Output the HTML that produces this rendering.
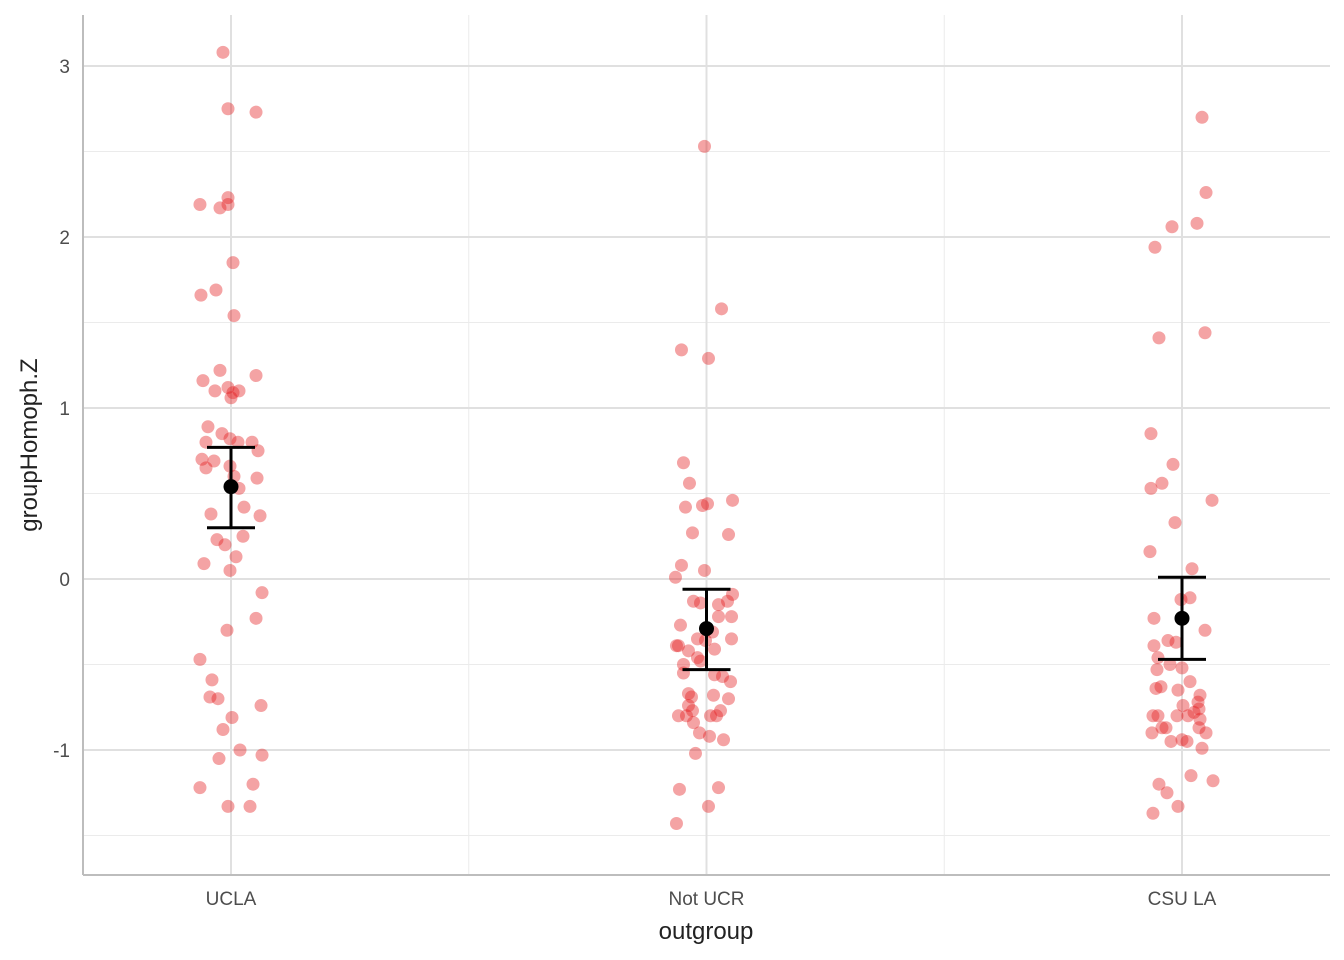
<!DOCTYPE html>
<html><head><meta charset="utf-8">
<style>
html,body{margin:0;padding:0;background:#fff;}
svg{display:block;font-family:"Liberation Sans",Arial,sans-serif;}
</style></head>
<body>
<svg id="chart" width="1344" height="960" viewBox="0 0 1344 960" xmlns="http://www.w3.org/2000/svg">
<g id="grid"></g>
<g id="axes"></g>
<g id="points"></g>
<g id="summary"></g>
<text x="706" y="939" font-size="24" fill="#222" text-anchor="middle">outgroup</text>
<text transform="translate(37,445) rotate(-90)" font-size="24" fill="#222" text-anchor="middle">groupHomoph.Z</text>
</svg>
<script>
const categories = ["UCLA", "Not UCR", "CSU LA"];
const yTicks = [-1, 0, 1, 2, 3];
const yTickLabels = ["-1", "0", "1", "2", "3"];
const yMinor = [-1.5, -0.5, 0.5, 1.5, 2.5];
// jitter offsets, in 1/475 of a category step
const uclaJitter = [-8,-3,25,-31,-3,-3,-11,2,-15,-30,3,-11,25,-28,-3,-16,8,2,0,-23,-9,-25,-1,7,21,27,-29,-17,-1,-25,3,26,8,13,-20,29,12,-14,-6,5,-27,-1,31,25,-4,-31,-19,-21,-13,1,30,-8,9,31,-12,-31,22,-3,19];
const uclaValues = [3.08,2.75,2.73,2.19,2.23,2.19,2.17,1.85,1.69,1.66,1.54,1.22,1.19,1.16,1.12,1.10,1.10,1.09,1.06,0.89,0.85,0.80,0.82,0.80,0.80,0.75,0.70,0.69,0.66,0.65,0.60,0.59,0.53,0.42,0.38,0.37,0.25,0.23,0.20,0.13,0.09,0.05,-0.08,-0.23,-0.30,-0.47,-0.59,-0.69,-0.70,-0.81,-0.74,-0.88,-1.00,-1.03,-1.05,-1.22,-1.20,-1.33,-1.33];
const notucrJitter = [-2,15,-25,2,-23,-17,26,-4,1,-21,-14,22,-25,-2,-31,26,-13,21,12,-6,-26,12,25,6,-9,-1,25,-30,-28,-18,8,-9,-6,-23,-23,8,16,24,-18,-15,7,22,-18,-14,14,-28,-20,4,10,-13,-7,3,17,-11,-27,12,2,-30];
const notucrValues = [2.53,1.58,1.34,1.29,0.68,0.56,0.46,0.43,0.44,0.42,0.27,0.26,0.08,0.05,0.01,-0.09,-0.13,-0.13,-0.15,-0.14,-0.27,-0.22,-0.22,-0.31,-0.35,-0.36,-0.35,-0.39,-0.39,-0.42,-0.41,-0.46,-0.48,-0.50,-0.55,-0.56,-0.57,-0.60,-0.67,-0.69,-0.68,-0.70,-0.74,-0.77,-0.77,-0.80,-0.80,-0.80,-0.80,-0.84,-0.90,-0.92,-0.94,-1.02,-1.23,-1.22,-1.33,-1.43];
const csulaJitter = [20,24,-10,15,-27,23,-23,-31,-9,-31,-20,30,-7,-32,10,8,-1,-28,23,-14,-6,-28,-24,-12,0,-25,8,-21,-26,-4,18,16,1,17,-29,-24,-5,6,12,18,-20,-16,17,24,-30,-11,0,5,20,9,-23,31,-15,-4,-29];
const csulaValues = [2.70,2.26,2.06,2.08,1.94,1.44,1.41,0.85,0.67,0.53,0.56,0.46,0.33,0.16,0.06,-0.11,-0.12,-0.23,-0.30,-0.36,-0.37,-0.39,-0.46,-0.50,-0.52,-0.53,-0.60,-0.63,-0.64,-0.65,-0.68,-0.72,-0.74,-0.76,-0.80,-0.80,-0.80,-0.80,-0.78,-0.82,-0.87,-0.87,-0.87,-0.90,-0.90,-0.95,-0.94,-0.95,-0.99,-1.15,-1.20,-1.18,-1.25,-1.33,-1.37];
const means = [0.54, -0.29, -0.23];
const ciLow = [0.30, -0.53, -0.47];
const ciHigh = [0.77, -0.06, 0.01];

const NS = "http://www.w3.org/2000/svg";
const step = 475.5;
const xScale = i => 231 + i * step;
const yScale = v => 579 - v * 171;
function mk(tag, attrs, parent) {
  const e = document.createElementNS(NS, tag);
  for (const k in attrs) e.setAttribute(k, attrs[k]);
  parent.appendChild(e);
  return e;
}
const grid = document.getElementById("grid");
const axes = document.getElementById("axes");
const pts = document.getElementById("points");
const sum = document.getElementById("summary");
const L = 83, R = 1330, T = 15, B = 875;
yMinor.forEach(v => {
  const l = mk("line", {x1:L, x2:R, y1:yScale(v), y2:yScale(v), stroke:"#ebebeb", "stroke-width":1}, grid);
  
  
});
[0.5, 1.5].forEach(c => {
  const l = mk("line", {x1:xScale(c), x2:xScale(c), y1:T, y2:B, stroke:"#ebebeb", "stroke-width":1}, grid);
  
  
});
yTicks.forEach((v, i) => {
  const l = mk("line", {x1:L, x2:R, y1:yScale(v), y2:yScale(v), stroke:"#e0e0e0", "stroke-width":2}, grid);
  
  
  const t = mk("text", {x:70, y:yScale(v) + 7, "font-size":19, fill:"#4d4d4d", "text-anchor":"end"}, axes);
  t.textContent = yTickLabels[i];
  
  
});
categories.forEach((c, i) => {
  const l = mk("line", {x1:xScale(i), x2:xScale(i), y1:T, y2:B, stroke:"#e0e0e0", "stroke-width":2}, grid);
  
  
  const t = mk("text", {x:xScale(i), y:905, "font-size":19, fill:"#4d4d4d", "text-anchor":"middle"}, axes);
  t.textContent = c;
  
  
});
const ya = mk("line", {x1:L, x2:L, y1:T, y2:B, stroke:"#bdbdbd", "stroke-width":2}, axes);


const xa = mk("line", {x1:L, x2:R, y1:B, y2:B, stroke:"#bdbdbd", "stroke-width":2}, axes);



const groups = [[uclaJitter, uclaValues], [notucrJitter, notucrValues], [csulaJitter, csulaValues]];
groups.forEach((g, gi) => {
  g[1].forEach((v, k) => {
    const c = mk("circle", {cx:xScale(gi + g[0][k] / 475), cy:yScale(v), r:6.5, fill:"#e41a1c", "fill-opacity":0.4}, pts);
    
    
  });
});
means.forEach((m, i) => {
  const x = xScale(i), hw = 24;
  const v = mk("line", {x1:x, x2:x, y1:yScale(ciLow[i]), y2:yScale(ciHigh[i]), stroke:"#000", "stroke-width":3}, sum);
  
  
  [ciLow[i], ciHigh[i]].forEach(e => {
    const cap = mk("line", {x1:x - hw, x2:x + hw, y1:yScale(e), y2:yScale(e), stroke:"#000", "stroke-width":3}, sum);
    
    
  });
  const d = mk("circle", {cx:x, cy:yScale(m), r:7.5, fill:"#000"}, sum);
  
  
});
</script>
</body></html>
